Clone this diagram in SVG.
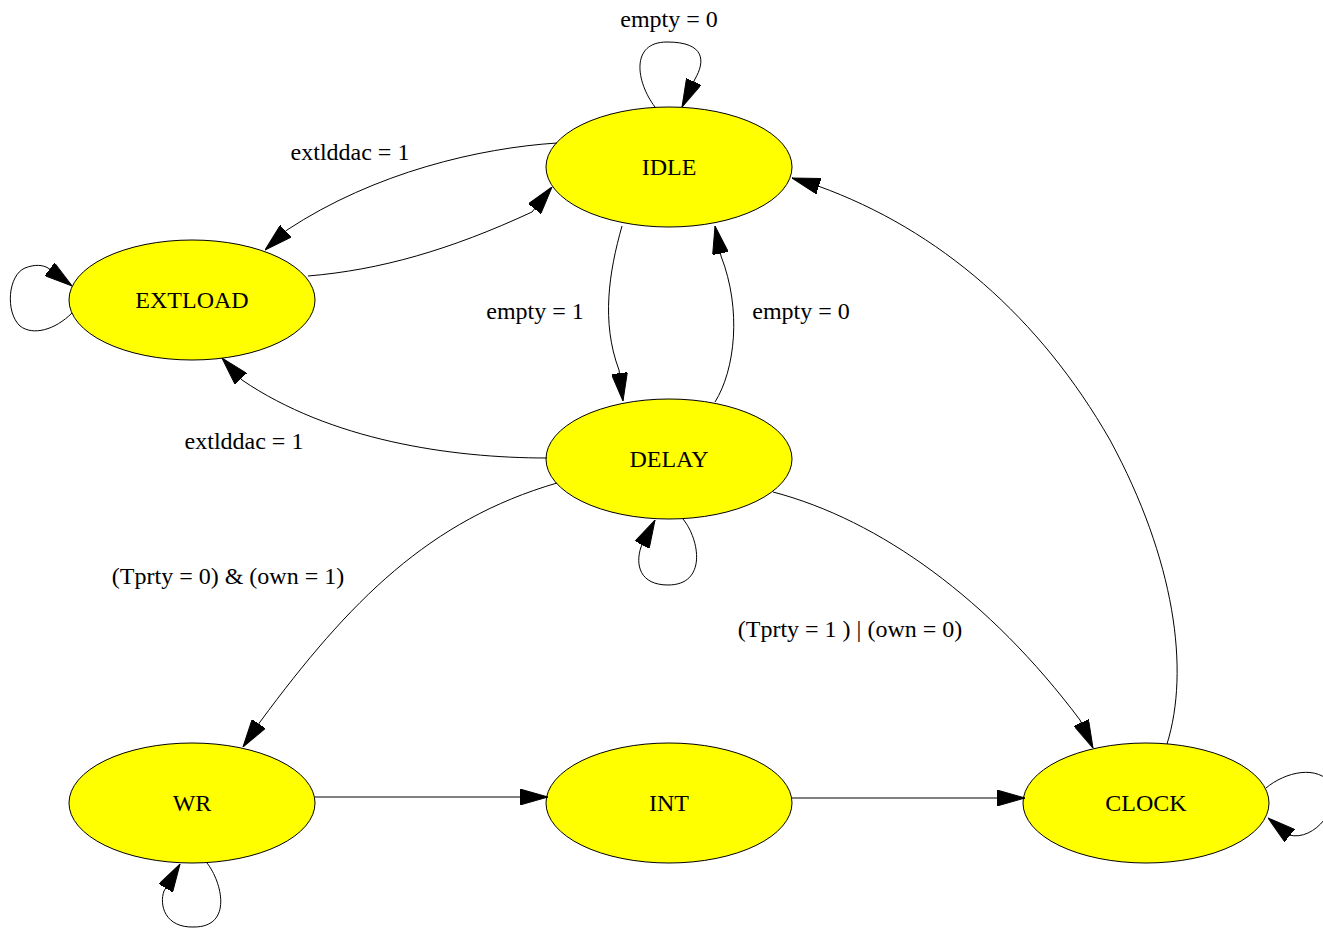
<svg xmlns="http://www.w3.org/2000/svg" width="1323" height="929" viewBox="0 0 1323 929">
<style>
.node ellipse{fill:#ffff00;stroke:#000;stroke-width:1}
text{font-family:"Liberation Serif","Times New Roman",serif;font-size:24px;fill:#000;text-anchor:middle}
.edge{fill:none;stroke:#000;stroke-width:1;marker-end:url(#arr)}
</style>
<defs>
<marker id="arr" viewBox="0 0 28 16" refX="28" refY="8" markerWidth="28" markerHeight="16" markerUnits="userSpaceOnUse" orient="auto">
<path d="M0,0 L28,8 L0,16 z" fill="#000" stroke="#000" stroke-width="1"/>
</marker>
</defs>
<rect width="1323" height="929" fill="#fff"/>
<g id="node-IDLE" class="node"><ellipse cx="669" cy="167" rx="123" ry="60"/><text x="669" y="175">IDLE</text></g>
<g id="node-EXTLOAD" class="node"><ellipse cx="192" cy="300" rx="123" ry="60"/><text x="192" y="308">EXTLOAD</text></g>
<g id="node-DELAY" class="node"><ellipse cx="669" cy="459" rx="123" ry="60"/><text x="669" y="467">DELAY</text></g>
<g id="node-WR" class="node"><ellipse cx="192" cy="803" rx="123" ry="60"/><text x="192" y="811">WR</text></g>
<g id="node-INT" class="node"><ellipse cx="669" cy="803" rx="123" ry="60"/><text x="669" y="811">INT</text></g>
<g id="node-CLOCK" class="node"><ellipse cx="1146" cy="803" rx="123" ry="60"/><text x="1146" y="811">CLOCK</text></g>
<g id="connectors">
<path class="edge" d="M655,107 C 636,82 630,42 667,42 C 706,42 705,62 695,79 L682,107"/>
<text x="669" y="27">empty = 0</text>
<path class="edge" d="M72,313 C 55,330 33,336 20,326 C 5,312 8,275 25,268 C 35,264 43,265 48,268 L72,286"/>
<path class="edge" d="M683,519 C 700,540 707,585 668,585 C 640,585 635,565 641,547 L655,520"/>
<path class="edge" d="M207,863 C 222,882 233,927 194,927 C 165,928 159,905 164,891 L180,864"/>
<path class="edge" d="M1266,788 C 1285,772 1318,764 1332,785 C 1342,805 1315,842 1289,835 L1268,818"/>
<path class="edge" d="M557,143 C 480,148 375,172 287,230 L265,250"/>
<text x="350" y="160">extlddac = 1</text>
<path class="edge" d="M308,276 C 380,270 450,250 532,212 L552,187"/>
<path class="edge" d="M622,226 C 609,272 601,322 619,370 L623,401"/>
<text x="535" y="319">empty = 1</text>
<path class="edge" d="M715,402 C 735,370 742,310 721,256 L715,226"/>
<text x="801" y="319">empty = 0</text>
<path class="edge" d="M547,458 C 450,458 330,440 242,380 L222,358"/>
<text x="244" y="449">extlddac = 1</text>
<path class="edge" d="M557,483 C 430,520 350,600 260,722 L243,747"/>
<text x="228" y="584">(Tprty = 0) &amp; (own = 1)</text>
<path class="edge" d="M773,492 C 880,520 990,600 1080,720 L1093,748"/>
<text x="850" y="637">(Tprty = 1 ) | (own = 0)</text>
<path class="edge" d="M1167,744 C 1190,670 1175,560 1110,440 C 1040,318 940,230 818,186 L792,178"/>
<path class="edge" d="M315,797 L548,797"/>
<path class="edge" d="M792,798 L1025,798"/>
</g>
</svg>
